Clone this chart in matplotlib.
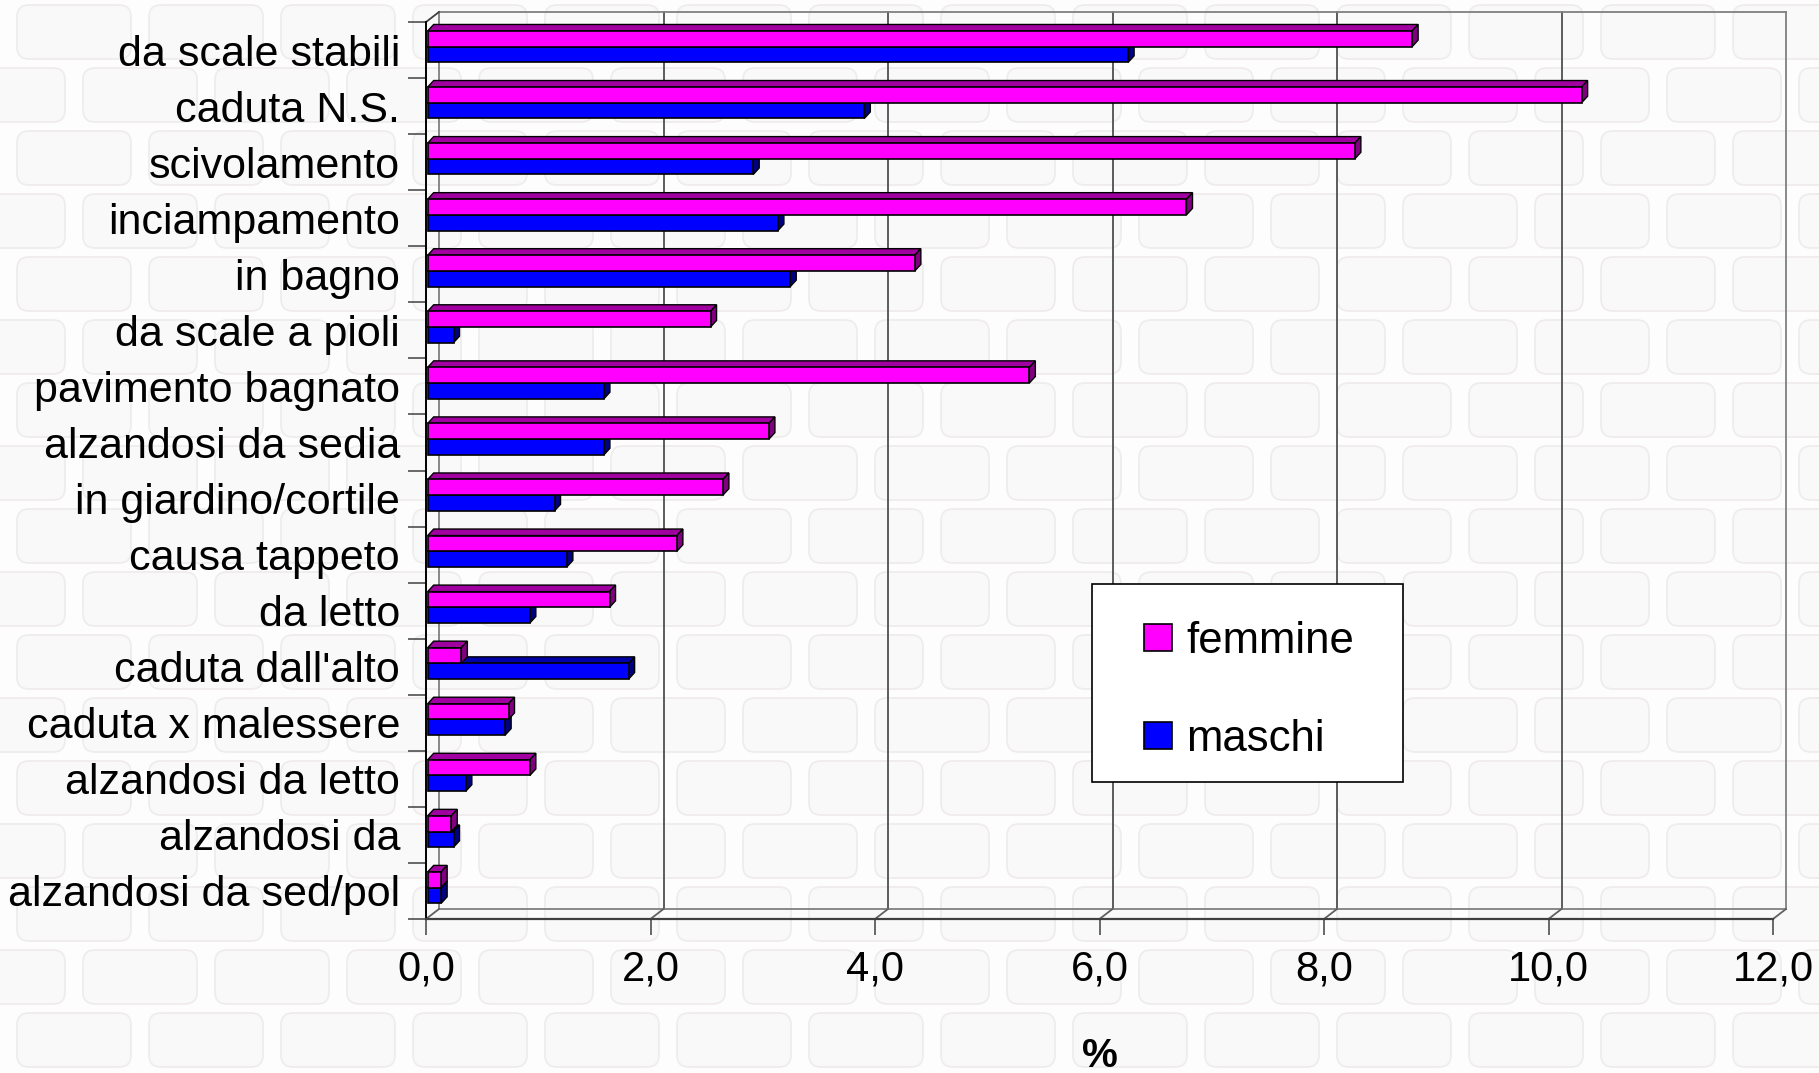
import matplotlib
matplotlib.use("Agg")
import matplotlib.pyplot as plt
from matplotlib.patches import Polygon, Rectangle, FancyBboxPatch
import numpy as np

plt.rcParams["font.family"] = ["Liberation Sans", "DejaVu Sans"]

# cadute per causa, % sul totale
categories = [
    "da scale stabili", "caduta N.S.", "scivolamento", "inciampamento",
    "in bagno", "da scale a pioli", "pavimento bagnato", "alzandosi da sedia",
    "in giardino/cortile", "causa tappeto", "da letto", "caduta dall'alto",
    "caduta x malessere", "alzandosi da letto", "alzandosi da",
    "alzandosi da sed/pol",
]
femmine = [8.77, 10.28, 8.26, 6.76, 4.34, 2.52, 5.36, 3.04,
           2.63, 2.22, 1.62, 0.30, 0.72, 0.91, 0.21, 0.12]
maschi = [6.24, 3.89, 2.90, 3.12, 3.23, 0.23, 1.57, 1.57,
          1.13, 1.24, 0.91, 1.79, 0.69, 0.34, 0.23, 0.12]
series_names = ["femmine", "maschi"]
x_ticks = [0, 2, 4, 6, 8, 10, 12]
x_tick_labels = ["0,0", "2,0", "4,0", "6,0", "8,0", "10,0", "12,0"]

W, H = 1819, 1073
fig = plt.figure(figsize=(W / 100, H / 100), dpi=100)
fig.patch.set_facecolor("#fdfdfd")

# faint brick wall texture behind everything
bg = fig.add_axes([0, 0, 1, 1], zorder=0)
bg.set_xlim(0, W)
bg.set_ylim(H, 0)
bg.axis("off")
for k in range(-16, 3):
    y = 950 + 63 * k
    start = 83 if k % 2 == 0 else 17
    for x in np.arange(start - 132 * 2, W + 132, 132):
        bg.add_patch(FancyBboxPatch((x, y), 114, 54,
                                    boxstyle="round,pad=0,rounding_size=12",
                                    fc="#f9f9f9", ec="#f0ecec", lw=1.3))

# chart: front plane of the 3D box
x0_px, x1_px, y0_px, y1_px = 426, 1773, 22, 919
ax = fig.add_axes([x0_px / W, 1 - y1_px / H, (x1_px - x0_px) / W, (y1_px - y0_px) / H],
                  zorder=1)
n = len(categories)
ax.set_xlim(0, 12)
ax.set_ylim(n, 0)
ax.patch.set_visible(False)
for s in ax.spines.values():
    s.set_visible(False)

ux = 12 / (x1_px - x0_px)
uy = n / (y1_px - y0_px)
bx, by = 13 * ux, 10 * uy      # depth of the box
dx, dy = 6 * ux, 6.5 * uy      # depth of each bar

wall = dict(color="#808080", lw=1.3, zorder=1, clip_on=False)
grid = dict(color="#505050", lw=1.3, zorder=1, clip_on=False)
for t in x_ticks[1:-1]:
    ax.plot([t + bx, t + bx], [-by, n - by], **grid)
ax.plot([bx, bx], [-by, n - by], **wall)
ax.plot([12 + bx, 12 + bx], [-by, n - by], **wall)
ax.plot([bx, 12 + bx], [-by, -by], **wall)
ax.plot([bx, 12 + bx], [n - by, n - by], **wall)
ax.plot([0, bx], [0, -by], color="#404040", lw=1.3, zorder=1, clip_on=False)
for t in x_ticks:
    ax.plot([t, t + bx], [n, n - by], color="#606060", lw=1.3, zorder=1, clip_on=False)
# front axes lines
ax.plot([0, 0], [0, n], color="black", lw=1.4, zorder=6, clip_on=False)
ax.plot([0, 12], [n, n], color="#404040", lw=1.6, zorder=6, clip_on=False)

# 3D bars
bar_h = 0.28
x_start = 0.015
ypos = np.arange(n)
styles = [
    (femmine, ypos + 0.30, "#ff00ff", "#a000a0", "#800080", 4),
    (maschi, ypos + 0.58, "#0000ff", "#0000a8", "#000080", 2),
]
for vals, yc, front, top, side, z in styles[::-1]:
    ax.barh(yc, vals, height=bar_h, left=x_start, color=front,
            edgecolor="black", lw=1.2, zorder=z + 1)
    for v, c in zip(vals, yc):
        xa, xb = x_start, x_start + v
        yt, yb = c - bar_h / 2, c + bar_h / 2
        ax.add_patch(Polygon([(xa, yt), (xa + dx, yt - dy), (xb + dx, yt - dy), (xb, yt)],
                             closed=True, fc=top, ec="black", lw=1.0, zorder=z,
                             clip_on=False))
        ax.add_patch(Polygon([(xb, yt), (xb + dx, yt - dy), (xb + dx, yb - dy), (xb, yb)],
                             closed=True, fc=side, ec="black", lw=1.0, zorder=z,
                             clip_on=False))

# ticks and labels
ax.set_xticks(x_ticks)
ax.set_xticklabels(x_tick_labels, fontsize=30)
ax.tick_params(axis="x", length=11.5, width=1.1, color="#404040", pad=10.5)
ax.set_yticks(np.arange(n + 1))
ax.set_yticklabels([])
ax.tick_params(axis="y", which="major", length=13, width=1.1, color="#404040")
ax.set_yticks(ypos + 0.5, minor=True)
ax.set_yticklabels(categories, minor=True, fontsize=31)
ax.tick_params(axis="y", which="minor", length=0, pad=18.7)

fig.text(1100 / W, 1 - 1056 / H, "%", fontsize=29, fontweight="bold",
         ha="center", va="center")

# legend box
lg = fig.add_axes([0, 0, 1, 1], zorder=3)
lg.set_xlim(0, W)
lg.set_ylim(H, 0)
lg.axis("off")
lg.add_patch(Rectangle((1092, 584), 311, 198, fc="white", ec="black", lw=1.2))
for name, color, yc in zip(series_names, ["#ff00ff", "#0000ff"], [637, 735]):
    lg.add_patch(Rectangle((1144, yc - 13.5), 28, 27, fc=color, ec="black", lw=1.2))
    lg.text(1186, yc, name, fontsize=31.5, ha="left", va="center_baseline")

fig.savefig("out.png", dpi=100, facecolor=fig.get_facecolor())
